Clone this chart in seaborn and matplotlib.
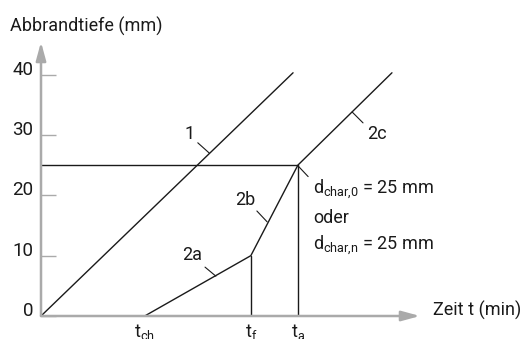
import matplotlib
matplotlib.use("Agg")
import matplotlib.pyplot as plt
import seaborn as sns

# time marks (arbitrary units, same scale as mm axis)
t_ch = 17.2
t_f = 34.8
t_a = 42.6

# curve 1: charring without protection
line1_x = [0, 41.8]
line1_y = [0, 40.3]

# curve 2: protected member, phases 2a / 2b / 2c
curve2_x = [t_ch, t_f, t_a, 58.2]
curve2_y = [0, 10, 25, 40.3]

d_char = 25
y_ticks = [0, 10, 20, 30, 40]
x_ticks = [t_ch, t_f, t_a]
x_labels = [r"$\mathregular{t_{ch}}$", r"$\mathregular{t_f}$", r"$\mathregular{t_a}$"]

sns.set_theme(style="white")
plt.rcParams["font.family"] = ["Roboto", "DejaVu Sans"]
plt.rcParams["mathtext.default"] = "regular"

grey = "#aaaaaa"
ink = "#1a1a1a"
fs = 13

fig = plt.figure(figsize=(5.24, 3.39), dpi=100)
ax = fig.add_axes([41 / 524, 23 / 339, 379 / 524, 274 / 339])

sns.lineplot(x=line1_x, y=line1_y, ax=ax, color=ink, lw=1.0, sort=False, estimator=None)
sns.lineplot(x=curve2_x, y=curve2_y, ax=ax, color=ink, lw=1.0, sort=False, estimator=None)
sns.lineplot(x=[0, t_a], y=[d_char, d_char], ax=ax, color=ink, lw=1.0)
ax.plot([t_f, t_f], [0, 10], color=ink, lw=1.0)
ax.plot([t_a, t_a], [0, d_char], color=ink, lw=1.0)

ax.set_xlim(0, 62.85)
ax.set_ylim(0, 45.4)
for s in ax.spines.values():
    s.set_visible(False)

# axes with arrows
arrow = dict(arrowstyle="-|>,head_length=1.1,head_width=0.3", color=grey, lw=1.8,
             mutation_scale=10, shrinkA=0, shrinkB=0)
ax.annotate("", xy=(62.85, 0), xytext=(0, 0), arrowprops=arrow, annotation_clip=False)
ax.annotate("", xy=(0, 45.4), xytext=(0, 0), arrowprops=arrow, annotation_clip=False)

ax.set_yticks(y_ticks)
ax.set_yticklabels([str(v) for v in y_ticks])
ax.tick_params(axis="y", direction="in", length=11, width=1, color=grey, pad=5.5,
               labelsize=fs + 0.5, labelcolor=ink, left=True)
for lab in ax.get_yticklabels():
    lab.set_va("baseline")
ax.set_xticks(x_ticks)
ax.set_xticklabels(x_labels)
ax.tick_params(axis="x", length=0, pad=4, labelsize=fs, labelcolor=ink)

# labels of the curves with little leader lines
labels = [("1", 24.7, 30.2, [26.0, 27.9], [28.7, 27.0]),
          ("2a", 25.0, 10.1, [27.2, 29.0], [8.1, 6.6]),
          ("2b", 33.8, 19.2, [35.8, 37.5], [17.4, 15.6]),
          ("2c", 55.7, 30.2, [51.6, 53.4], [33.8, 32.0])]
for txt, tx, ty, lx, ly in labels:
    ax.text(tx, ty, txt, ha="center", va="center", fontsize=fs, color=ink)
    ax.plot(lx, ly, color=ink, lw=0.8)

ax.plot([42.6, 44.3], [24.9, 23.1], color=ink, lw=0.8)
ax.text(45.1, 20.2, r"$\mathregular{d_{char{,}0}}$ = 25 mm", fontsize=fs, color=ink, va="baseline")
ax.text(45.1, 15.4, "oder", fontsize=fs, color=ink, va="baseline")
ax.text(45.1, 11.0, r"$\mathregular{d_{char{,}n}}$ = 25 mm", fontsize=fs, color=ink, va="baseline")

ax.text(65.0, 1.0, "Zeit t (min)", fontsize=fs, color=ink, va="center", clip_on=False)
fig.text(10 / 524, 1 - 32 / 339, "Abbrandtiefe (mm)", fontsize=fs, color=ink, va="baseline")

fig.savefig("out.png", dpi=100)
